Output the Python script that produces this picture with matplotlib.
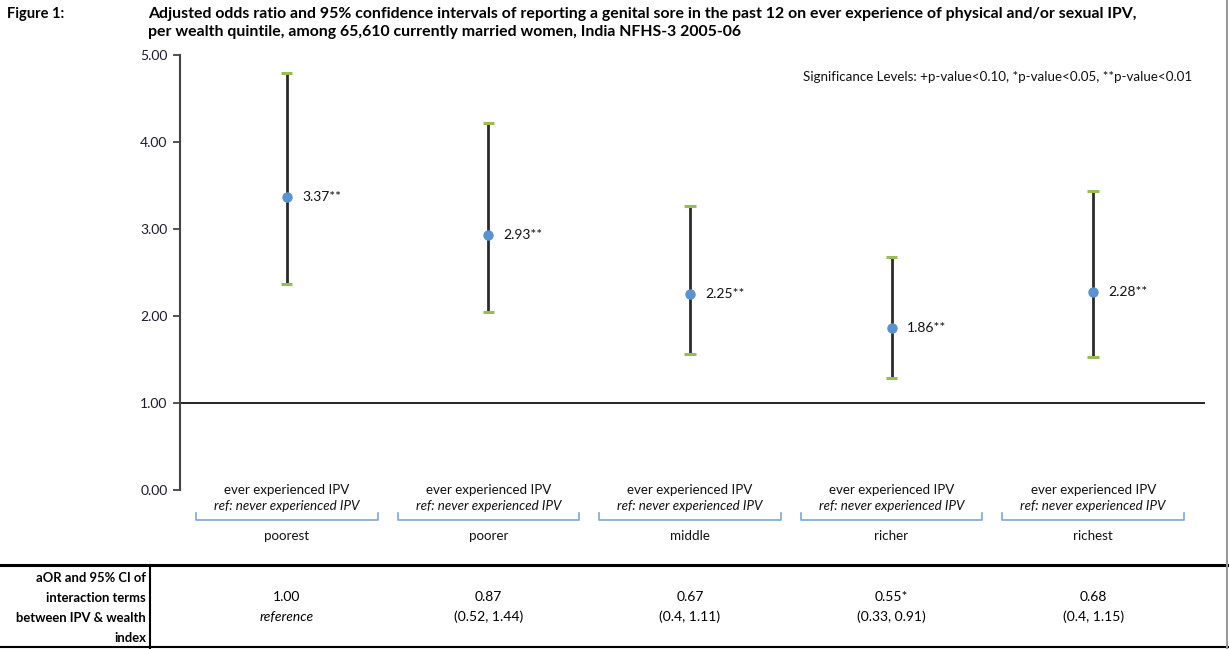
import matplotlib.pyplot as plt
import matplotlib.transforms as mtransforms
from matplotlib.lines import Line2D

quintiles = ['poorest', 'poorer', 'middle', 'richer', 'richest']
aor = [3.37, 2.93, 2.25, 1.86, 2.28]
ci_low = [2.37, 2.05, 1.56, 1.29, 1.53]
ci_high = [4.79, 4.22, 3.26, 2.68, 3.44]
point_labels = ['3.37**', '2.93**', '2.25**', '1.86**', '2.28**']
y_ticks = [0, 1, 2, 3, 4, 5]
inter_aor = ['1.00', '0.87', '0.67', '0.55*', '0.68']
inter_ci = ['reference', '(0.52, 1.44)', '(0.4, 1.11)', '(0.33, 0.91)', '(0.4, 1.15)']

plt.rcParams['font.family'] = ['Lato', 'DejaVu Sans']

W, H = 1229, 649
fig = plt.figure(figsize=(W / 100, H / 100), dpi=100)
ax = fig.add_axes([180 / W, 1 - 490 / H, 1025 / W, 435 / H])

x = list(range(len(quintiles)))
ax.vlines(x, ci_low, ci_high, color='#2b2b2b', lw=2, zorder=2)
ax.hlines(ci_low, [i - 0.028 for i in x], [i + 0.028 for i in x], color='#9bbb59', lw=2.2, zorder=2)
ax.hlines(ci_high, [i - 0.028 for i in x], [i + 0.028 for i in x], color='#9bbb59', lw=2.2, zorder=2)
ax.plot(x, aor, 'o', color='#5b92d0', ms=6.5, zorder=3)
for i, lab in enumerate(point_labels):
    ax.annotate(lab, (x[i], aor[i]), xytext=(11, 0), textcoords='offset points',
                va='center', ha='left', fontsize=10, color='#111')

ax.axhline(1, color='black', lw=1.2, zorder=1)
ax.set_xlim(-0.53, 4.555)
ax.set_ylim(0, 5)
ax.set_yticks(y_ticks)
ax.set_yticklabels(['%.2f' % v for v in y_ticks], fontsize=10, color='#1a1a2e')
ax.tick_params(axis='y', direction='out', length=5, width=1.3, color='#444', pad=4)
ax.set_xticks([])
for side in ['top', 'right', 'bottom']:
    ax.spines[side].set_visible(False)
ax.spines['left'].set_color('#444')
ax.spines['left'].set_linewidth(1.5)

# category labels under the axis
trans = mtransforms.blended_transform_factory(ax.transData, fig.transFigure)
for i, q in enumerate(quintiles):
    ax.text(i, 1 - 490 / H, 'ever experienced IPV', transform=trans, ha='center', va='center',
            fontsize=9.6, color='#111', clip_on=False)
    ax.text(i, 1 - 506 / H, 'ref: never experienced IPV', transform=trans, ha='center', va='center',
            fontsize=9.6, style='italic', color='#111', clip_on=False)
    bx = [i - 0.45, i - 0.45, i + 0.45, i + 0.45]
    by = [1 - 513 / H, 1 - 520 / H, 1 - 520 / H, 1 - 513 / H]
    ax.add_line(Line2D(bx, by, transform=trans, color='#7ba7d6', lw=1.2, clip_on=False))
    ax.text(i, 1 - 536 / H, q, transform=trans, ha='center', va='center',
            fontsize=9.6, color='#111', clip_on=False)

# title
fig.text(7 / W, 1 - 14 / H, 'Figure 1:', fontsize=10.5, weight='bold', va='center', ha='left')
fig.text(148 / W, 1 - 14 / H,
         'Adjusted odds ratio and 95% confidence intervals of reporting a genital sore in the past 12 '
         'on ever experience of physical and/or sexual IPV,',
         fontsize=11.4, weight='bold', va='center', ha='left')
fig.text(148 / W, 1 - 32 / H,
         'per wealth quintile, among 65,610 currently married women, India NFHS-3 2005-06',
         fontsize=11.4, weight='bold', va='center', ha='left')
fig.text(803 / W, 1 - 77 / H,
         'Significance Levels: +p-value<0.10, *p-value<0.05, **p-value<0.01',
         fontsize=9.6, va='center', ha='left', color='#111')

# table below the chart
fig.add_artist(Line2D([0, 1], [1 - 565 / H, 1 - 565 / H], color='black', lw=2.2))
fig.add_artist(Line2D([0, 1], [1 - 647 / H, 1 - 647 / H], color='black', lw=1.5))
fig.add_artist(Line2D([150 / W, 150 / W], [1 - 565 / H, 1 - 649 / H], color='black', lw=1.5))
fig.add_artist(Line2D([1227 / W, 1227 / W], [0, 1], color='#999999', lw=1.5))

row_lines = ['aOR and 95% CI of', 'interaction terms', 'between IPV & wealth', 'index']
for k, t in enumerate(row_lines):
    fig.text(146 / W, 1 - (578 + 20 * k) / H, t, fontsize=9.4, weight='bold', ha='right', va='center')
for i in range(len(quintiles)):
    fig.text(i, 1 - 597 / H, inter_aor[i], transform=trans, fontsize=10, ha='center', va='center')
    fig.text(i, 1 - 617 / H, inter_ci[i], transform=trans, fontsize=10, ha='center', va='center',
             style='italic' if i == 0 else 'normal')

fig.savefig('out.png', dpi=100)
